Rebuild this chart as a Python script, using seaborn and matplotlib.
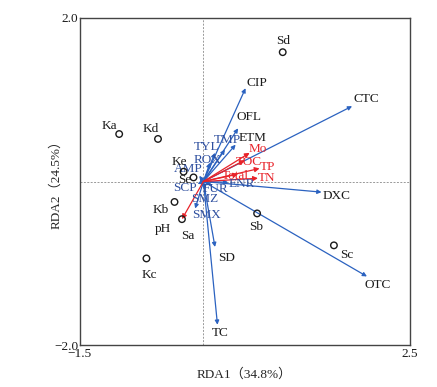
"""
RDA biplot: sampling sites, antibiotic loadings and environmental factors.
"""

import pandas as pd
import matplotlib
matplotlib.use("Agg")
import matplotlib.pyplot as plt
import seaborn as sns

# sites (scores on RDA1 / RDA2)
site_names = ["Sd", "Ka", "Kd", "Ke", "Se", "Kb", "Sa", "Kc", "Sb", "Sc"]
site_x = [0.96, -1.02, -0.55, -0.24, -0.12, -0.35, -0.26, -0.69, 0.65, 1.58]
site_y = [1.58, 0.58, 0.52, 0.12, 0.05, -0.25, -0.46, -0.94, -0.39, -0.78]

# antibiotics (response loadings)
abx_names = ["CIP", "OFL", "ETM", "TMP", "TYL", "ROX", "AMP", "SCP", "SMZ",
             "FUR", "ENR", "SMX", "SD", "TC", "CTC", "DXC", "OTC"]
abx_x = [0.51, 0.42, 0.39, 0.26, 0.14, 0.08, -0.05, -0.07, 0.02,
         0.10, 0.30, -0.10, 0.14, 0.17, 1.80, 1.43, 1.98]
abx_y = [1.14, 0.65, 0.45, 0.39, 0.35, 0.23, 0.07, -0.03, -0.10,
         -0.04, -0.01, -0.33, -0.80, -1.75, 0.92, -0.13, -1.16]

# environmental factors
env_names = ["Mo", "TOC", "TP", "Total", "TN", "pH"]
env_x = [0.56, 0.50, 0.68, 0.42, 0.66, -0.26]
env_y = [0.35, 0.26, 0.16, 0.09, 0.04, -0.46]

# label offsets in points (dx, dy)
site_off = {"Sd": (0, 8), "Ka": (-7, 6), "Kd": (-5, 7), "Ke": (-3, 7),
            "Se": (-6, -2), "Kb": (-10, -6), "Sa": (4, -12), "Kc": (2, -12),
            "Sb": (-1, -10), "Sc": (9, -7)}
abx_off = {"CIP": (8, 4), "OFL": (8, 8), "ETM": (12, 5), "TMP": (2, 7),
           "TYL": (-6, 4), "ROX": (-2, 2), "AMP": (-8, 5), "SCP": (-9, -3),
           "SMZ": (0, -7), "FUR": (3, -3), "ENR": (10, -1), "SMX": (8, -5),
           "SD": (8, -8), "TC": (2, -6), "CTC": (10, 5), "DXC": (11, -3),
           "OTC": (8, -6)}
env_off = {"Mo": (6, 3), "TOC": (3, -1), "TP": (6, 1), "Total": (-2, -1),
           "TN": (6, 0), "pH": (-14, -7)}
blue_text = {"TMP", "TYL", "ROX", "AMP", "SCP", "SMZ", "FUR", "ENR", "SMX"}

sns.set_style("white")
plt.rcParams["font.family"] = ["Liberation Serif", "Noto Sans CJK SC"]
plt.rcParams["font.size"] = 9

sites = pd.DataFrame({"site": site_names, "x": site_x, "y": site_y})

fig = plt.figure(figsize=(4.37, 3.87), dpi=100)
ax = fig.add_axes([0.182, 0.108, 0.756, 0.846])

ax.axvline(0, color="#999999", lw=0.7, ls=(0, (2, 1.5)), zorder=0)
ax.axhline(0, color="#999999", lw=0.7, ls=(0, (2, 1.5)), zorder=0)

arrow_blue = "#2b62c0"
arrow_red = "#e8232a"

for name, x, y in zip(abx_names, abx_x, abx_y):
    ax.annotate("", xy=(x, y), xytext=(0, 0),
                arrowprops=dict(arrowstyle="-|>", color=arrow_blue, lw=0.9,
                                mutation_scale=6, shrinkA=0, shrinkB=0),
                zorder=3)
    col = "#2e4f9f" if name in blue_text else "#1a1a1a"
    ax.annotate(name, (x, y), xytext=abx_off[name], textcoords="offset points",
                ha="center", va="center", color=col, fontsize=9.5, zorder=5)

for name, x, y in zip(env_names, env_x, env_y):
    ax.annotate("", xy=(x, y), xytext=(0, 0),
                arrowprops=dict(arrowstyle="-|>", color=arrow_red, lw=0.9,
                                mutation_scale=7, shrinkA=0, shrinkB=0),
                zorder=4)
    col = "#1a1a1a" if name == "pH" else arrow_red
    ax.annotate(name, (x, y), xytext=env_off[name], textcoords="offset points",
                ha="center", va="center", color=col, fontsize=9.5, zorder=5)

sns.scatterplot(data=sites, x="x", y="y", ax=ax, marker="o", s=22,
                facecolor="none", edgecolor="#1a1a1a", linewidth=1.0, zorder=6)
for name, x, y in zip(site_names, site_x, site_y):
    ax.annotate(name, (x, y), xytext=site_off[name], textcoords="offset points",
                ha="center", va="center", color="#1a1a1a", fontsize=9.5, zorder=5)

ax.set_xlim(-1.5, 2.5)
ax.set_ylim(-2.0, 2.0)
ax.set_xticks([-1.5, -1.0, -0.5, 0, 0.5, 1.0, 1.5, 2.0, 2.5])
ax.set_xticklabels(["\u22121.5", "", "", "", "", "", "", "", "2.5"])
ax.set_yticks([-2.0, 2.0])
ax.set_yticklabels(["\u22122.0", "2.0"])
ax.tick_params(axis="x", direction="in", length=4, width=0.8, pad=2,
               colors="#333333", labelcolor="#1a1a1a", labelsize=9.5)
ax.tick_params(axis="y", direction="in", length=0, pad=1,
               labelcolor="#1a1a1a", labelsize=9.5)
for sp in ax.spines.values():
    sp.set_color("#444444")
    sp.set_linewidth(1.0)

ax.set_xlabel("RDA1（34.8%）", fontsize=9.5, labelpad=6)
ax.set_ylabel("RDA2（24.5%）", fontsize=9.5, labelpad=-6)

fig.savefig("out.png", dpi=100)
